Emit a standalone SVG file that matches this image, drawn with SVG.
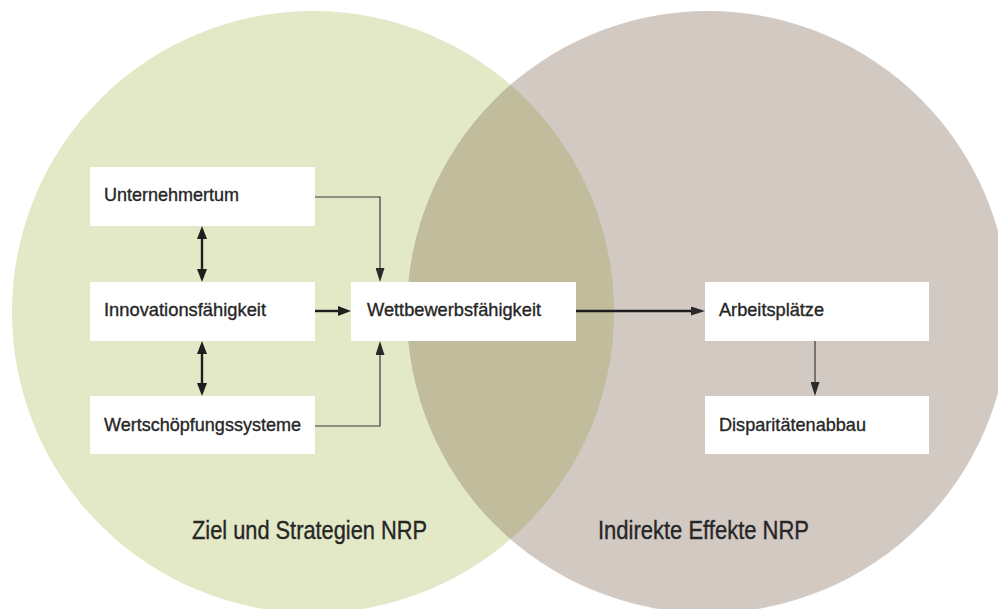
<svg xmlns="http://www.w3.org/2000/svg" width="998" height="609" viewBox="0 0 998 609">
  <style>
    .box { fill: #ffffff; }
    .lbl { font-family: "Liberation Sans Narrow", "Liberation Sans", Arial, sans-serif; font-size: 18.5px; fill: #262626; stroke: #262626; stroke-width: 0.35; }
    .title { font-family: "Liberation Sans Narrow", "Liberation Sans", Arial, sans-serif; font-size: 25px; fill: #262626; stroke: #262626; stroke-width: 0.35; }
    .thin { fill: none; stroke: #3a3a3a; stroke-width: 1.2; }
    .thick { fill: none; stroke: #1e1e1e; stroke-width: 2.4; }
  </style>
  <defs>
    <marker id="headThin" markerUnits="userSpaceOnUse" markerWidth="14" markerHeight="9" refX="0" refY="4.5" orient="auto-start-reverse">
      <path d="M0,0 L14,4.5 L0,9 z" fill="#2a2a2a"/>
    </marker>
    <marker id="headThick" markerUnits="userSpaceOnUse" markerWidth="13" markerHeight="10" refX="0" refY="5" orient="auto-start-reverse">
      <path d="M0,0 L13,5 L0,10 z" fill="#1e1e1e"/>
    </marker>
    <clipPath id="leftArea">
      <circle cx="313" cy="312" r="301"/>
    </clipPath>
  </defs>

  <!-- background sets -->
  <g id="sets">
    <circle cx="313" cy="312" r="301" fill="#e3e8c6"/>
    <circle cx="708" cy="312" r="301" fill="#d2c9c3"/>
    <circle cx="708" cy="312" r="301" fill="#c0bc9c" clip-path="url(#leftArea)"/>
  </g>

  <!-- set titles -->
  <text class="title" x="192" y="539" textLength="235" lengthAdjust="spacingAndGlyphs">Ziel und Strategien NRP</text>
  <text class="title" x="598" y="539" textLength="211" lengthAdjust="spacingAndGlyphs">Indirekte Effekte NRP</text>

  <!-- connectors -->
  <g id="connectors">
    <path class="thin" d="M315,197 H380 V268" marker-end="url(#headThin)"/>
    <path class="thin" d="M315,426 H380 V355" marker-end="url(#headThin)"/>
    <path class="thick" d="M202,239 V269" marker-start="url(#headThick)" marker-end="url(#headThick)"/>
    <path class="thick" d="M202,354 V383" marker-start="url(#headThick)" marker-end="url(#headThick)"/>
    <path class="thick" d="M315,311 H338" marker-end="url(#headThick)"/>
    <path class="thick" d="M576,311 H691" marker-end="url(#headThin)"/>
    <path class="thin" d="M815,341 V382" marker-end="url(#headThin)"/>
  </g>

  <!-- nodes -->
  <g id="unternehmertum">
    <rect class="box" x="90" y="167" width="225" height="59"/>
    <text class="lbl" x="104" y="201" textLength="135" lengthAdjust="spacingAndGlyphs">Unternehmertum</text>
  </g>
  <g id="innovationsfaehigkeit">
    <rect class="box" x="90" y="282" width="225" height="59"/>
    <text class="lbl" x="104" y="316" textLength="162" lengthAdjust="spacingAndGlyphs">Innovationsfähigkeit</text>
  </g>
  <g id="wertschoepfungssysteme">
    <rect class="box" x="90" y="396" width="225" height="58"/>
    <text class="lbl" x="104" y="431" textLength="197" lengthAdjust="spacingAndGlyphs">Wertschöpfungssysteme</text>
  </g>
  <g id="wettbewerbsfaehigkeit">
    <rect class="box" x="351" y="282" width="225" height="59"/>
    <text class="lbl" x="367" y="316" textLength="174" lengthAdjust="spacingAndGlyphs">Wettbewerbsfähigkeit</text>
  </g>
  <g id="arbeitsplaetze">
    <rect class="box" x="705" y="282" width="224" height="59"/>
    <text class="lbl" x="719" y="316" textLength="105" lengthAdjust="spacingAndGlyphs">Arbeitsplätze</text>
  </g>
  <g id="disparitaetenabbau">
    <rect class="box" x="705" y="396" width="224" height="58"/>
    <text class="lbl" x="719" y="431" textLength="147" lengthAdjust="spacingAndGlyphs">Disparitätenabbau</text>
  </g>
</svg>
